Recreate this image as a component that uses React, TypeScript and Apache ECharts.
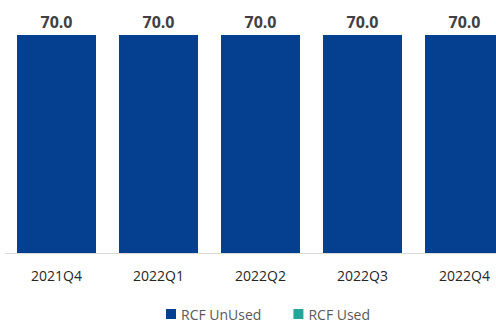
import React, { useEffect, useRef } from "react";
import * as echarts from "echarts";

const categories = ["2021Q4", "2022Q1", "2022Q2", "2022Q3", "2022Q4"];
const rcfUnused = [70.0, 70.0, 70.0, 70.0, 70.0];
const rcfUsed = [0, 0, 0, 0, 0];

export default function App() {
  const ref = useRef<HTMLDivElement>(null);
  useEffect(() => {
    if (!ref.current) return;
    const chart = echarts.init(ref.current, undefined, { renderer: "svg" });
    chart.setOption({
      animation: false,
      backgroundColor: "#ffffff",
      grid: { left: 5.5, top: 35, width: 510, height: 218, containLabel: false },
      legend: {
        data: ["RCF UnUsed", "RCF Used"],
        left: 161,
        top: 302,
        icon: "rect",
        itemWidth: 10,
        itemHeight: 10,
        itemGap: 32,
        itemStyle: { borderWidth: 0 },
        textStyle: { color: "#595959", fontSize: 14, fontFamily: "Open Sans" },
      },
      xAxis: {
        type: "category",
        data: categories,
        axisLine: { lineStyle: { color: "#d9d9d9", width: 1 } },
        axisTick: { show: false },
        axisLabel: { color: "#262626", fontSize: 14, fontFamily: "Open Sans", margin: 15 },
      },
      yAxis: {
        type: "value",
        min: 0,
        max: 70,
        show: false,
        splitLine: { show: false },
      },
      series: [
        {
          name: "RCF UnUsed",
          type: "bar",
          stack: "rcf",
          data: rcfUnused,
          barWidth: 79,
          itemStyle: { color: "#053f8f" },
          label: {
            show: true,
            position: "top",
            distance: 5,
            formatter: (p: any) => Number(p.value).toFixed(1),
            color: "#404040",
            fontSize: 16,
            fontWeight: "bold",
            fontFamily: "Open Sans",
          },
        },
        {
          name: "RCF Used",
          type: "bar",
          stack: "rcf",
          data: rcfUsed,
          barWidth: 79,
          itemStyle: { color: "#26a69a" },
        },
      ],
    });
    return () => chart.dispose();
  }, []);
  return (
    <div
      ref={ref}
      style={{ position: "fixed", left: 0, top: 0, width: 521, height: 322 }}
    />
  );
}
